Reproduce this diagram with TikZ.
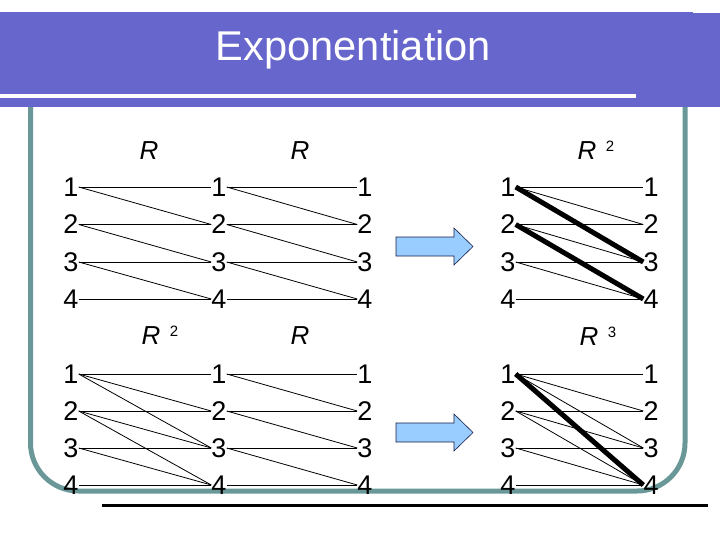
\documentclass[tikz,border=0pt]{standalone}
\usepackage{fontspec}
\setmainfont{Liberation Sans}
\definecolor{bandblue}{RGB}{102,102,204}
\definecolor{frameteal}{RGB}{106,152,152}
\definecolor{arrowblue}{RGB}{153,204,255}
\definecolor{arrowline}{RGB}{20,30,70}
\begin{document}
\begin{tikzpicture}[x=1pt, y=-1pt,
  num/.style={inner sep=0pt, font=\fontsize{27}{27}\selectfont},
  rlab/.style={inner sep=0pt, font=\fontsize{26}{26}\selectfont\itshape},
  power/.style={inner sep=0pt, font=\fontsize{15}{15}\selectfont},
  rel/.style={line width=0.8pt},
  newrel/.style={line width=5pt},
  bigarrow/.style={draw=arrowline, line width=0.6pt, fill=arrowblue, line join=miter}]
  \useasboundingbox (0,0) rectangle (720,540);
  % frame and title band
  \draw[frameteal, line width=5pt, rounded corners=48] (30.5,100) -- (30.5,491) -- (685,491) -- (685,100);
  \fill[bandblue] (0,12) rectangle (693,107);
  \fill[bandblue] (693,13) rectangle (720,107);
  \draw[white, line width=4pt] (0,96) -- (636,96);
  \node[white, inner sep=0pt, font=\fontsize{41.6}{41.6}\selectfont] (title) at (353.5,50) {Exponentiation};
  \draw[line width=3pt] (102,505) -- (708,505);
  % the numbers
  \foreach \i/\y in {1/187,2/224.5,3/262,4/299} {
    \node[num] (ua\i) at (71,\y) {\i};
    \node[num] (ub\i) at (219,\y) {\i};
    \node[num] (uc\i) at (365,\y) {\i};
    \node[num] (ud\i) at (508,\y) {\i};
    \node[num] (ue\i) at (651,\y) {\i};
  }
  \foreach \i/\y in {1/374,2/411,3/448,4/485} {
    \node[num] (la\i) at (71,\y) {\i};
    \node[num] (lb\i) at (219,\y) {\i};
    \node[num] (lc\i) at (365,\y) {\i};
    \node[num] (ld\i) at (508,\y) {\i};
    \node[num] (le\i) at (651,\y) {\i};
  }
  % labels
  \node[rlab] (urA) at (149,151) {R};
  \node[rlab] (urB) at (300,151) {R};
  \node[rlab] (urC) at (587,151) {R};
  \node[power, anchor=north west] (urCp) at ([xshift=9pt,yshift=1pt]urC.north east) {2};
  \node[rlab] (lrA) at (151,336) {R};
  \node[power, anchor=north west] (lrAp) at ([xshift=9pt,yshift=1pt]lrA.north east) {2};
  \node[rlab] (lrB) at (300,336) {R};
  \node[rlab] (lrC) at (589,337) {R};
  \node[power, anchor=north west] (lrCp) at ([xshift=9pt,yshift=1pt]lrC.north east) {3};
  % R
  \foreach \s/\t in {1/1,1/2,2/2,2/3,3/3,3/4,4/4} {
    \draw[rel] (ua\s.east) -- (ub\t.west);
    \draw[rel] (ub\s.east) -- (uc\t.west);
    \draw[rel] (ud\s.east) -- (ue\t.west);
    \draw[rel] (lb\s.east) -- (lc\t.west);
  }
  % R^2
  \foreach \s/\t in {1/1,1/2,1/3,2/2,2/3,2/4,3/3,3/4,4/4} {
    \draw[rel] (la\s.east) -- (lb\t.west);
    \draw[rel] (ld\s.east) -- (le\t.west);
  }
  \draw[newrel] (ud1.east) -- (ue3.west);
  \draw[newrel] (ud2.east) -- (ue4.west);
  \draw[newrel] (ld1.east) -- (le4.west);
  % block arrows
  \coordinate (upArrow) at (396,246.5);
  \coordinate (lowArrow) at (396,432.5);
  \foreach \a in {upArrow,lowArrow}
    \draw[bigarrow] (\a) ++(0,-9.5) -- ++(58,0) -- ++(0,-9) -- ++(19,18.5)
      -- ++(-19,18.5) -- ++(0,-9) -- ++(-58,0) -- cycle;
\end{tikzpicture}
\end{document}
